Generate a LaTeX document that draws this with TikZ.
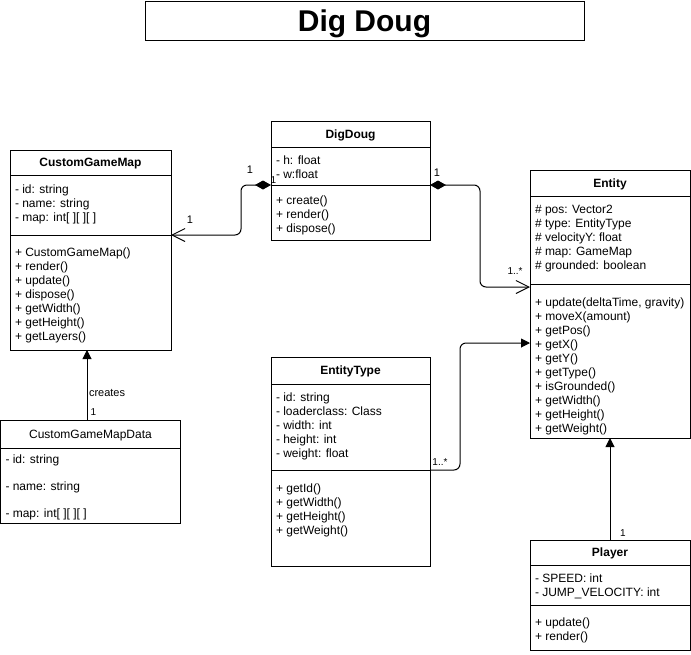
\documentclass[tikz,border=0pt]{standalone}
\usepackage{fontspec}
\setmainfont{Liberation Sans}
\usetikzlibrary{positioning,arrows.meta}

\begin{document}
\begin{tikzpicture}[x=1pt, y=-1pt, line width=1pt,
    every node/.style={outer sep=0pt},
    titlebox/.style={draw, anchor=north west, inner sep=0pt, text depth=0pt, font=\bfseries\fontsize{30}{36}\selectfont},
    classhead/.style={draw, anchor=north west, inner sep=0pt, text depth=0pt, font=\bfseries\fontsize{12}{14}\selectfont},
    compart/.style={draw, inner sep=0pt},
    members/.style={anchor=north west, inner sep=0pt, align=left, font=\fontsize{12}{14}\selectfont},
    lbl/.style={inner sep=0pt, font=\fontsize{11}{13}\selectfont},
    lblsmall/.style={inner sep=0pt, font=\fontsize{10}{12}\selectfont},
    compose/.style={rounded corners=6pt, {Diamond[length=16pt,width=9pt]}-{Straight Barb[length=13pt,width=13pt]}},
    assoc/.style={rounded corners=6pt, -{Triangle[length=9pt,width=9pt]}}]

    \useasboundingbox (0,0) rectangle (691,654);

    % title
    \node[titlebox, minimum width=439pt, minimum height=39pt] (title) at (145,1) {Dig Doug};

    % DigDoug
    \node[classhead, minimum width=159pt, minimum height=26pt] (dd-h) at (271,121) {DigDoug};
    \node[compart, minimum width=159pt, minimum height=38pt, below=0pt of dd-h] (dd-a) {};
    \node[compart, minimum width=159pt, minimum height=55pt, below=0pt of dd-a] (dd-m) {};
    \node[members] (dd-at) at ([shift={(5,9)}]dd-a.north west) {- h: float\\- w:float};
    \node[members] (dd-mt) at ([shift={(5,11)}]dd-m.north west) {+ create()\\+ render()\\+ dispose()};

    % CustomGameMap
    \node[classhead, minimum width=161pt, minimum height=25pt] (cgm-h) at (10,150) {CustomGameMap};
    \node[compart, minimum width=161pt, minimum height=60pt, below=0pt of cgm-h] (cgm-a) {};
    \node[compart, minimum width=161pt, minimum height=115pt, below=0pt of cgm-a] (cgm-m) {};
    \node[members] (cgm-at) at ([shift={(5,9.5)}]cgm-a.north west) {- id: string\\- name: string\\- map: int[ ][ ][ ]};
    \node[members] (cgm-mt) at ([shift={(5,13)}]cgm-m.north west)
        {+ CustomGameMap()\\+ render()\\+ update()\\+ dispose()\\+ getWidth()\\+ getHeight()\\+ getLayers()};

    % CustomGameMapData
    \node[classhead, font=\fontsize{12}{14}\selectfont, minimum width=180pt, minimum height=28pt] (cgmd-h) at (0.5,420) {CustomGameMapData};
    \node[compart, minimum width=180pt, minimum height=75pt, below=0pt of cgmd-h] (cgmd-a) {};
    \node[members] (cgmd-at) at ([shift={(5,6.5)}]cgmd-a.north west) {- id: string\\[13pt]- name: string\\[13pt]- map: int[ ][ ][ ]};

    % Entity
    \node[classhead, minimum width=160pt, minimum height=26pt] (ent-h) at (530,170) {Entity};
    \node[compart, minimum width=160pt, minimum height=88pt, below=0pt of ent-h] (ent-a) {};
    \node[compart, minimum width=160pt, minimum height=154pt, below=0pt of ent-a] (ent-m) {};
    \node[members] (ent-at) at ([shift={(5,9)}]ent-a.north west)
        {\# pos: Vector2\\\# type: EntityType\\\# velocityY: float\\\# map: GameMap\\\# grounded: boolean};
    \node[members] (ent-mt) at ([shift={(5,13.5)}]ent-m.north west)
        {+ update(deltaTime, gravity)\\+ moveX(amount)\\+ getPos()\\+ getX()\\+ getY()\\+ getType()\\+ isGrounded()\\+ getWidth()\\+ getHeight()\\+ getWeight()};

    % EntityType
    \node[classhead, minimum width=159pt, minimum height=27pt] (et-h) at (271,357) {EntityType};
    \node[compart, minimum width=159pt, minimum height=86pt, below=0pt of et-h] (et-a) {};
    \node[compart, minimum width=159pt, minimum height=96pt, below=0pt of et-a] (et-m) {};
    \node[members] (et-at) at ([shift={(5,9)}]et-a.north west)
        {- id: string\\- loaderclass: Class\\- width: int\\- height: int\\- weight: float};
    \node[members] (et-mt) at ([shift={(5,13.5)}]et-m.north west)
        {+ getId()\\+ getWidth()\\+ getHeight()\\+ getWeight()};

    % Player
    \node[classhead, minimum width=160pt, minimum height=25pt] (pl-h) at (530,540) {Player};
    \node[compart, minimum width=160pt, minimum height=40pt, below=0pt of pl-h] (pl-a) {};
    \node[compart, minimum width=160pt, minimum height=45pt, below=0pt of pl-a] (pl-m) {};
    \node[members] (pl-at) at ([shift={(5,9)}]pl-a.north west) {- SPEED: int\\- JUMP\_VELOCITY: int};
    \node[members] (pl-mt) at ([shift={(5,12.5)}]pl-m.north west) {+ update()\\+ render()};

    % the connections
    \draw[compose] (dd-a.south west) -- ++(-30,0) |- (cgm-a.south east);
    \draw[compose] (dd-a.south east) -- ++(50,0) |- ([shift={(0,3)}]ent-a.south west);
    \draw[assoc] (et-a.south east) -- ++(30,0) |- ([shift={(0,59)}]ent-m.north west);
    \draw[assoc] ([shift={(-3.5,0)}]cgmd-h.north) -- ([shift={(-3.5,0)}]cgm-m.south);
    \draw[assoc] (pl-h.north) -- (ent-m.south);

    % multiplicities
    \node[lbl] (n-dd1) at (250,170) {1};
    \node[lbl] (n-cgm1) at (190,220) {1};
    \node[lblsmall] (n-dd2) at (273.5,180) {1};
    \node[lbl] (n-dd3) at (437,173) {1};
    \node[lblsmall] (n-ent1) at (515,271) {1..*};
    \node[lblsmall] (n-et1) at (440,462) {1..*};
    \node[lbl, anchor=west] (n-cr) at (89,393) {creates};
    \node[lblsmall] (n-cr1) at (93.5,412) {1};
    \node[lblsmall] (n-pl1) at (623,533) {1};

\end{tikzpicture}
\end{document}
